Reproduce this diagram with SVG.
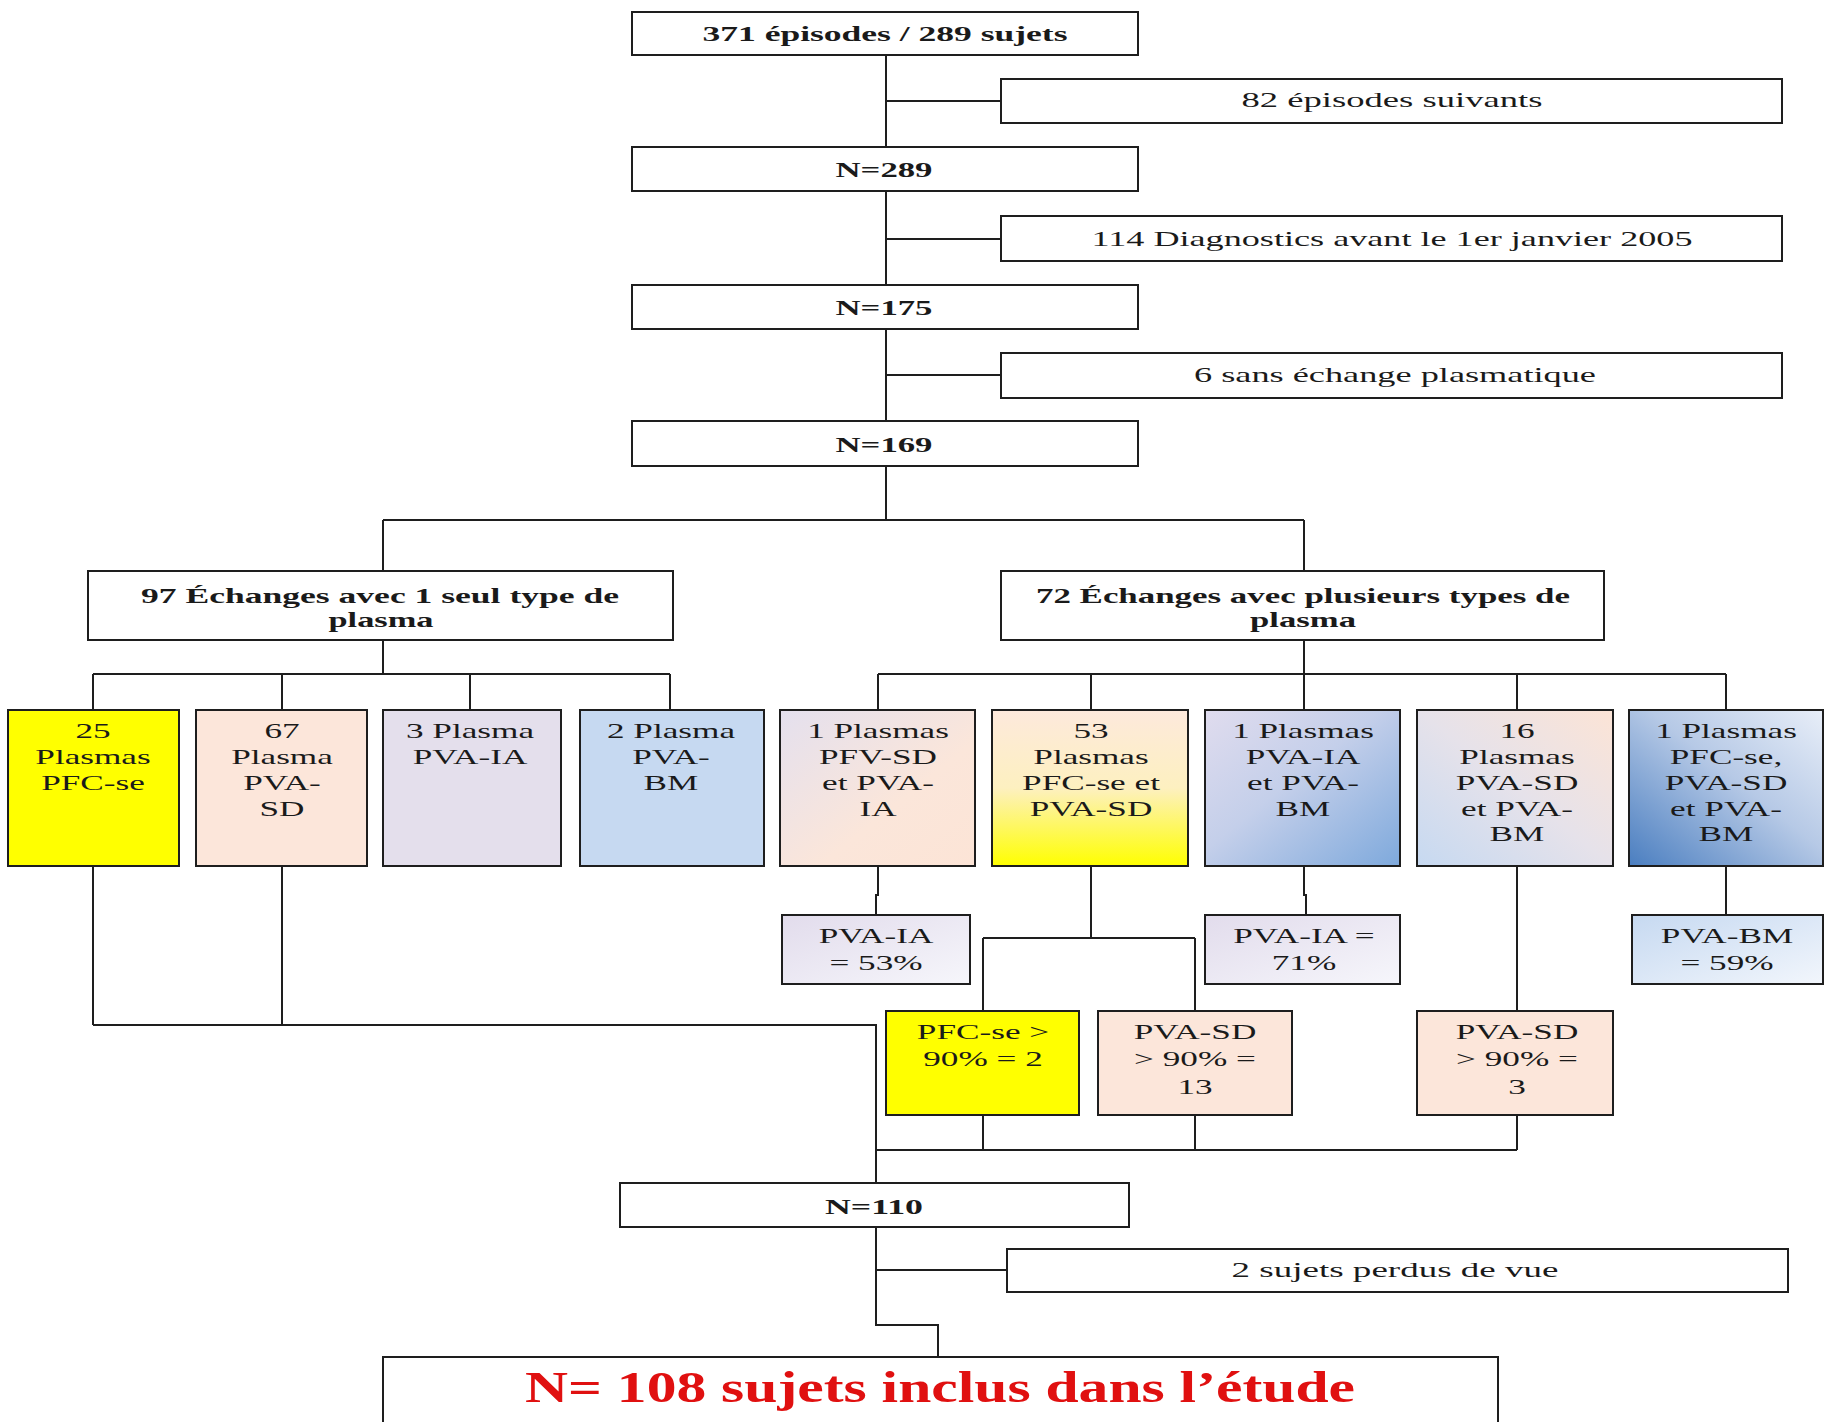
<svg xmlns="http://www.w3.org/2000/svg" width="1825" height="1422" viewBox="0 0 1825 1422">
<defs>
<style>
.b{stroke:#1e1e1e;stroke-width:2;fill:#fff}
.c{stroke:#1e1e1e;stroke-width:2;fill:none}
text{font-family:"Liberation Serif","Times New Roman",serif;fill:#1a1a1a;text-anchor:middle}
.tb{font-size:22px;font-weight:bold}
.tr{font-size:22px}
.red{font-size:44px;font-weight:bold;fill:#e01010}
</style>
<linearGradient id="g1" x1="0" y1="0" x2="1" y2="1"><stop offset="0" stop-color="#e4e0ee"/><stop offset="0.6" stop-color="#fbe6da"/><stop offset="1" stop-color="#fce4d6"/></linearGradient>
<linearGradient id="g2" x1="0" y1="0" x2="0" y2="1"><stop offset="0" stop-color="#fde9dc"/><stop offset="0.5" stop-color="#fdf0c0"/><stop offset="1" stop-color="#ffff00"/></linearGradient>
<linearGradient id="g3" x1="0" y1="0" x2="1" y2="1"><stop offset="0" stop-color="#e0dcee"/><stop offset="0.45" stop-color="#c4cfea"/><stop offset="1" stop-color="#7ea9dc"/></linearGradient>
<linearGradient id="g4" x1="1" y1="0" x2="0" y2="1"><stop offset="0" stop-color="#fce4d6"/><stop offset="0.5" stop-color="#e6e2ea"/><stop offset="1" stop-color="#c6d9f1"/></linearGradient>
<linearGradient id="g5" x1="1" y1="0" x2="0" y2="1"><stop offset="0" stop-color="#e8eef8"/><stop offset="0.45" stop-color="#b6c9e6"/><stop offset="1" stop-color="#4a7ec0"/></linearGradient>
<linearGradient id="g6" x1="0" y1="0" x2="1" y2="1"><stop offset="0" stop-color="#e2dcec"/><stop offset="1" stop-color="#f6f6fb"/></linearGradient>
<linearGradient id="g7" x1="0" y1="0" x2="1" y2="1"><stop offset="0" stop-color="#c6d9f1"/><stop offset="1" stop-color="#f2f6fc"/></linearGradient>
</defs>
<rect width="1825" height="1422" fill="#fff"/>

<g id="connectors">
<path class="c" d="M886 55V421M886 101H1001M886 239H1001M886 375H1001"/>
<path class="c" d="M886 466V520M383 520H1304M383 520V571M1304 520V571"/>
<path class="c" d="M383 640V674M93 674H670M93 674V710M282 674V710M470 674V710M670 674V710"/>
<path class="c" d="M1304 640V674M878 674H1726M878 674V710M1091 674V710M1304 674V710M1517 674V710M1726 674V710"/>
<path class="c" d="M878 866V895H876V915M1304 866V895H1306V915M1726 866V915"/>
<path class="c" d="M1091 866V938M983 938H1195M983 938V1011M1195 938V1011M1517 866V1011"/>
<path class="c" d="M93 866V1025M282 866V1025M93 1025H876V1183"/>
<path class="c" d="M983 1115V1150M1195 1115V1150M1517 1115V1150M876 1150H1517"/>
<path class="c" d="M876 1227V1325H938V1357M876 1270H1007"/>
</g>

<g id="n-start"><rect class="b" x="632" y="12" width="506" height="43"/><text class="tb" x="885" y="41" textLength="365" lengthAdjust="spacingAndGlyphs">371 épisodes / 289 sujets</text></g>
<g id="n-ex1"><rect class="b" x="1001" y="79" width="781" height="44"/><text class="tr" x="1392" y="107" textLength="301" lengthAdjust="spacingAndGlyphs">82 épisodes suivants</text></g>
<g id="n-289"><rect class="b" x="632" y="147" width="506" height="44"/><text class="tb" x="884" y="177" textLength="97" lengthAdjust="spacingAndGlyphs">N=289</text></g>
<g id="n-ex2"><rect class="b" x="1001" y="216" width="781" height="45"/><text class="tr" x="1392" y="246" textLength="601" lengthAdjust="spacingAndGlyphs">114 Diagnostics avant le 1er janvier 2005</text></g>
<g id="n-175"><rect class="b" x="632" y="285" width="506" height="44"/><text class="tb" x="884" y="315" textLength="97" lengthAdjust="spacingAndGlyphs">N=175</text></g>
<g id="n-ex3"><rect class="b" x="1001" y="353" width="781" height="45"/><text class="tr" x="1395" y="382" textLength="402" lengthAdjust="spacingAndGlyphs">6 sans échange plasmatique</text></g>
<g id="n-169"><rect class="b" x="632" y="421" width="506" height="45"/><text class="tb" x="884" y="452" textLength="97" lengthAdjust="spacingAndGlyphs">N=169</text></g>

<g id="n-97"><rect class="b" x="88" y="571" width="585" height="69"/><text class="tb" x="380" y="603" textLength="478" lengthAdjust="spacingAndGlyphs">97 Échanges avec 1 seul type de</text><text class="tb" x="381" y="627" textLength="105" lengthAdjust="spacingAndGlyphs">plasma</text></g>
<g id="n-72"><rect class="b" x="1001" y="571" width="603" height="69"/><text class="tb" x="1303" y="603" textLength="534" lengthAdjust="spacingAndGlyphs">72 Échanges avec plusieurs types de</text><text class="tb" x="1303" y="627" textLength="106" lengthAdjust="spacingAndGlyphs">plasma</text></g>

<g id="n-25"><rect class="b" x="8" y="710" width="171" height="156" style="fill:#ffff00"/><text class="tr" transform="translate(93 0) scale(1.6 1)"><tspan x="0" y="738">25</tspan><tspan x="0" y="764">Plasmas</tspan><tspan x="0" y="790">PFC-se</tspan></text></g>
<g id="n-67"><rect class="b" x="196" y="710" width="171" height="156" style="fill:#fce6da"/><text class="tr" transform="translate(282 0) scale(1.6 1)"><tspan x="0" y="738">67</tspan><tspan x="0" y="764">Plasma</tspan><tspan x="0" y="790">PVA-</tspan><tspan x="0" y="816">SD</tspan></text></g>
<g id="n-3"><rect class="b" x="383" y="710" width="178" height="156" style="fill:#e4dfec"/><text class="tr" transform="translate(470 0) scale(1.6 1)"><tspan x="0" y="738">3 Plasma</tspan><tspan x="0" y="764">PVA-IA</tspan></text></g>
<g id="n-2"><rect class="b" x="580" y="710" width="184" height="156" style="fill:#c6d9f1"/><text class="tr" transform="translate(671 0) scale(1.6 1)"><tspan x="0" y="738">2 Plasma</tspan><tspan x="0" y="764">PVA-</tspan><tspan x="0" y="790">BM</tspan></text></g>

<g id="n-pfvsd"><rect class="b" x="780" y="710" width="195" height="156" style="fill:url(#g1)"/><text class="tr" transform="translate(878 0) scale(1.6 1)"><tspan x="0" y="738">1 Plasmas</tspan><tspan x="0" y="764">PFV-SD</tspan><tspan x="0" y="790">et PVA-</tspan><tspan x="0" y="816">IA</tspan></text></g>
<g id="n-53"><rect class="b" x="992" y="710" width="196" height="156" style="fill:url(#g2)"/><text class="tr" transform="translate(1091 0) scale(1.6 1)"><tspan x="0" y="738">53</tspan><tspan x="0" y="764">Plasmas</tspan><tspan x="0" y="790">PFC-se et</tspan><tspan x="0" y="816">PVA-SD</tspan></text></g>
<g id="n-iabm"><rect class="b" x="1205" y="710" width="195" height="156" style="fill:url(#g3)"/><text class="tr" transform="translate(1303 0) scale(1.6 1)"><tspan x="0" y="738">1 Plasmas</tspan><tspan x="0" y="764">PVA-IA</tspan><tspan x="0" y="790">et PVA-</tspan><tspan x="0" y="816">BM</tspan></text></g>
<g id="n-16"><rect class="b" x="1417" y="710" width="196" height="156" style="fill:url(#g4)"/><text class="tr" transform="translate(1517 0) scale(1.6 1)"><tspan x="0" y="738">16</tspan><tspan x="0" y="764">Plasmas</tspan><tspan x="0" y="790">PVA-SD</tspan><tspan x="0" y="816">et PVA-</tspan><tspan x="0" y="841">BM</tspan></text></g>
<g id="n-3types"><rect class="b" x="1629" y="710" width="194" height="156" style="fill:url(#g5)"/><text class="tr" transform="translate(1726 0) scale(1.6 1)"><tspan x="0" y="738">1 Plasmas</tspan><tspan x="0" y="764">PFC-se,</tspan><tspan x="0" y="790">PVA-SD</tspan><tspan x="0" y="816">et PVA-</tspan><tspan x="0" y="841">BM</tspan></text></g>

<g id="n-ia53"><rect class="b" x="782" y="915" width="188" height="69" style="fill:url(#g6)"/><text class="tr" transform="translate(876 0) scale(1.6 1)"><tspan x="0" y="943">PVA-IA</tspan><tspan x="0" y="970">= 53%</tspan></text></g>
<g id="n-ia71"><rect class="b" x="1205" y="915" width="195" height="69" style="fill:url(#g6)"/><text class="tr" transform="translate(1304 0) scale(1.6 1)"><tspan x="0" y="943">PVA-IA =</tspan><tspan x="0" y="970">71%</tspan></text></g>
<g id="n-bm59"><rect class="b" x="1632" y="915" width="191" height="69" style="fill:url(#g7)"/><text class="tr" transform="translate(1727 0) scale(1.6 1)"><tspan x="0" y="943">PVA-BM</tspan><tspan x="0" y="970">= 59%</tspan></text></g>

<g id="n-pfc2"><rect class="b" x="886" y="1011" width="193" height="104" style="fill:#ffff00"/><text class="tr" transform="translate(983 0) scale(1.6 1)"><tspan x="0" y="1039">PFC-se &gt;</tspan><tspan x="0" y="1066">90% = 2</tspan></text></g>
<g id="n-sd13"><rect class="b" x="1098" y="1011" width="194" height="104" style="fill:#fce6da"/><text class="tr" transform="translate(1195 0) scale(1.6 1)"><tspan x="0" y="1039">PVA-SD</tspan><tspan x="0" y="1066">&gt; 90% =</tspan><tspan x="0" y="1094">13</tspan></text></g>
<g id="n-sd3"><rect class="b" x="1417" y="1011" width="196" height="104" style="fill:#fce6da"/><text class="tr" transform="translate(1517 0) scale(1.6 1)"><tspan x="0" y="1039">PVA-SD</tspan><tspan x="0" y="1066">&gt; 90% =</tspan><tspan x="0" y="1094">3</tspan></text></g>

<g id="n-110"><rect class="b" x="620" y="1183" width="509" height="44"/><text class="tb" x="874" y="1214" textLength="98" lengthAdjust="spacingAndGlyphs">N=110</text></g>
<g id="n-ex4"><rect class="b" x="1007" y="1249" width="781" height="43"/><text class="tr" x="1395" y="1277" textLength="327" lengthAdjust="spacingAndGlyphs">2 sujets perdus de vue</text></g>
<g id="n-final"><rect class="b" x="383" y="1357" width="1115" height="90"/><text class="red" x="940" y="1402" textLength="830" lengthAdjust="spacingAndGlyphs">N= 108 sujets inclus dans l’étude</text></g>
</svg>
